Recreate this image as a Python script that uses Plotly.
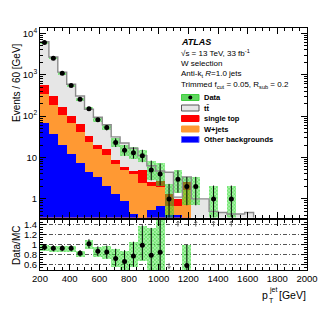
import plotly.graph_objects as go

# ---------------- data ----------------
bin_lo = list(range(200, 2000, 60))          # 30 bins of 60 GeV
bin_width = 60

other_bkg = [70, 36, 20.5, 12.4, 7.5, 4.4, 3.4, 2.1, 1.32, 0.91, 0.43, 0.3, 0.55, 0.69, 0.4,
             0.4, 0.2, 0.05, 0.05, 0.02, 0.02, 0.02, 0.02, 0.02, 0.01, 0.01, 0.01, 0.01, 0.01, 0.01]
wjets = [275, 154, 88.5, 54.6, 33.1, 19.4, 12.8, 9.6, 5.78, 4.15, 3.61, 2.1, 1.55, 1.21, 0.29,
         0.29, 1.4, 0.1, 0.1, 0.05, 0.05, 0.03, 0.03, 0.05, 0.02, 0.02, 0.02, 0.02, 0.02, 0.02]
single_top = [210, 120, 53, 31, 22.4, 9.2, 4.2, 4.4, 1.75, 0.84, 0.66, 2.66, 0.5, 0.8, 0.63,
              0.31, 1.0, 0.05, 0.05, 0.03, 0, 0, 0, 0, 0, 0, 0, 0, 0, 0]
ttbar = [5745, 2380, 998, 492, 244, 114, 73.6, 45.9, 22.65, 16.5, 12.0, 6.04, 3.7, 2.0, 3.08,
         0.1, 0.8, 0.8, 0.8, 0.4, 0.4, 0.38, 0.38, 0.4, 0.1, 0.1, 0.1, 0.1, 0.1, 0.1]

data = [6000, 2500, 1080, 550, 255, 150, 82, 53, 23, 15, 13, 11, 5, 4, 1, 3, 2, 2, 0, 1, 0, 1,
        0, 0, 0, 0, 0, 0, 0, 0]
data_err_lo = [380, 160, 70, 36, 20, 13, 9, 8, 5, 4, 3.6, 3.3, 2.2, 1.9, 0.83, 1.6, 1.3, 1.3, 0,
               0.83, 0, 0.83, 0, 0, 0, 0, 0, 0, 0, 0]
data_err_hi = [380, 160, 70, 36, 20, 13, 9, 8, 6, 5, 4.7, 4.4, 3.4, 3.2, 1.3, 1.9, 1.4, 1.4, 0,
               1.1, 0, 1.1, 0, 0, 0, 0, 0, 0, 0, 0]

x_ticks = [200, 400, 600, 800, 1000, 1200, 1400, 1600, 1800, 2000]
y_ticks = [1, 10, 100, 1000, 10000]
y_ticktext = ["1", "10", "10<sup>2</sup>", "10<sup>3</sup>", "10<sup>4</sup>"]
r_ticks = [0.6, 0.8, 1.0, 1.2, 1.4]
r_ticktext = ["0.6", "0.8", "1", "1.2", "1.4"]

# ---------------- derived ----------------
n = len(bin_lo)
centers = [b + bin_width / 2 for b in bin_lo]
lvl_blue = [other_bkg[i] for i in range(n)]
lvl_orange = [lvl_blue[i] + wjets[i] for i in range(n)]
lvl_red = [lvl_orange[i] + single_top[i] for i in range(n)]
mc_total = [lvl_red[i] + ttbar[i] for i in range(n)]

FLOOR = 0.01
FONT = "Liberation Sans, Arial, Helvetica, sans-serif"
GREEN_PAT = dict(shape="x", fgcolor="#14d414", bgcolor="rgba(80,230,80,0.35)", size=2.5,
                 solidity=0.6, fillmode="overlay")

fig = go.Figure()

# stacked MC (overlayed cumulative levels)
for lvl, col in [(mc_total, "#e6e6e6"), (lvl_red, "#ff0000"),
                 (lvl_orange, "#ff9933"), (lvl_blue, "#0000ff")]:
    fig.add_trace(go.Bar(x=centers, y=[v - FLOOR for v in lvl], base=[FLOOR] * n,
                         width=bin_width, marker=dict(color=col, line=dict(width=0)),
                         xaxis="x", yaxis="y", showlegend=False, hoverinfo="skip"))

# outline of total
fig.add_trace(go.Scatter(x=bin_lo + [2000], y=mc_total + [mc_total[-1]], mode="lines",
                         line=dict(shape="hv", color="#8c8c8c", width=1.4),
                         xaxis="x", yaxis="y", showlegend=False, hoverinfo="skip"))

# data band (main)
idx = [i for i in range(n) if data[i] > 0]
fig.add_trace(go.Bar(x=[centers[i] for i in idx],
                     y=[data_err_lo[i] + data_err_hi[i] for i in idx],
                     base=[max(data[i] - data_err_lo[i], FLOOR) for i in idx],
                     width=bin_width,
                     marker=dict(color="rgba(0,0,0,0)", pattern=GREEN_PAT, line=dict(width=0)),
                     xaxis="x", yaxis="y", showlegend=False, hoverinfo="skip"))
# data points (main)
fig.add_trace(go.Scatter(x=[centers[i] for i in idx], y=[data[i] for i in idx], mode="markers",
                         marker=dict(color="black", size=5),
                         error_y=dict(type="data", symmetric=False,
                                      array=[data_err_hi[i] for i in idx],
                                      arrayminus=[data_err_lo[i] for i in idx],
                                      color="black", thickness=1, width=0),
                         xaxis="x", yaxis="y", showlegend=False))

# ratio
ratio = [data[i] / mc_total[i] for i in range(n)]
r_lo = [data_err_lo[i] / mc_total[i] for i in range(n)]
r_hi = [data_err_hi[i] / mc_total[i] for i in range(n)]
ridx = [i for i in idx if 0.5 <= ratio[i] <= 1.5]
fig.add_trace(go.Bar(x=[centers[i] for i in ridx], y=[r_lo[i] + r_hi[i] for i in ridx],
                     base=[ratio[i] - r_lo[i] for i in ridx], width=bin_width,
                     marker=dict(color="rgba(0,0,0,0)", pattern=GREEN_PAT, line=dict(width=0)),
                     xaxis="x2", yaxis="y2", showlegend=False, hoverinfo="skip"))
fig.add_trace(go.Scatter(x=[centers[i] for i in ridx], y=[ratio[i] for i in ridx], mode="markers",
                         marker=dict(color="black", size=5),
                         error_y=dict(type="data", symmetric=False,
                                      array=[r_hi[i] for i in ridx],
                                      arrayminus=[r_lo[i] for i in ridx],
                                      color="black", thickness=1, width=0),
                         xaxis="x2", yaxis="y2", showlegend=False))

# out-of-range arrows in the ratio panel (thin lines with small heads)
shapes = []
ARW = dict(color="#555555", width=0.8)
for i in idx:
    c = centers[i]
    if ratio[i] > 1.5:
        shapes.append(dict(type="line", xref="x2", yref="y2", x0=c, x1=c, y0=1.36, y1=1.47,
                           line=ARW))
        shapes.append(dict(type="path", xref="x2", yref="y2",
                           path=f"M {c-10},1.43 L {c},1.47 L {c+10},1.43", line=ARW))
    elif ratio[i] < 0.5:
        shapes.append(dict(type="line", xref="x2", yref="y2", x0=c, x1=c, y0=0.64, y1=0.53,
                           line=ARW))
        shapes.append(dict(type="path", xref="x2", yref="y2",
                           path=f"M {c-10},0.57 L {c},0.53 L {c+10},0.57", line=ARW))

# ---------------- layout helpers ----------------
W, H = 332, 322
ML, MR, MT, MB = 32, 33, 20, 60
PW, PH = W - ML - MR, H - MT - MB

annotations = []


def px(xp):
    return (xp - ML) / PW


def py(yp):
    return (H - MB - yp) / PH


def txt(x, y, s, size=8, anchor="left", **kw):
    d = dict(x=px(x), y=py(y), xref="paper", yref="paper", text=s, showarrow=False,
             xanchor=anchor, yanchor="middle", borderpad=0, borderwidth=0,
             font=dict(family=FONT, size=size, color="black"))
    d.update(kw)
    annotations.append(d)


# header texts
txt(173, 34.5, "<b><i>ATLAS</i></b>", size=9)
txt(173, 45, "√s = 13 TeV, 33 fb<sup>-1</sup>", size=8)
txt(173, 55.5, "W selection", size=8)
txt(173, 66, "Anti-k<sub>t</sub> <i>R</i>=1.0 jets", size=8)
txt(173, 76.5, "Trimmed f<sub>cut</sub> = 0.05, R<sub>sub</sub> = 0.2", size=8)

# legend
leg_rows = [89.5, 100, 110.5, 121, 131.5]
leg_labels = ["Data", "tt\u0304", "single top", "W+jets", "Other backgrounds"]
leg_fill = ["#5fd85f", "#e6e6e6", "#ff0000", "#ff9933", "#0000ff"]
leg_line = ["#3fcf3f", "#555555", "#ff0000", "#ff9933", "#6666ff"]
for yrow, lab, fc, lc in zip(leg_rows, leg_labels, leg_fill, leg_line):
    shapes.append(dict(type="rect", xref="paper", yref="paper", x0=px(173.5), x1=px(191),
                       y0=py(yrow + 3), y1=py(yrow - 3), fillcolor=fc,
                       line=dict(color=lc, width=1)))
    txt(195.5, yrow, "<b>" + lab + "</b>", size=7.5)
shapes.append(dict(type="circle", xref="paper", yref="paper", x0=px(180.3), x1=px(184.3),
                   y0=py(leg_rows[0] + 2), y1=py(leg_rows[0] - 2), fillcolor="black",
                   line=dict(width=0)))

# axis titles
txt(8, 75, "Events / 60 [GeV]", size=10, anchor="center", textangle=-90)
txt(8, 238, "Data/MC", size=10, anchor="center", textangle=-90)
txt(260, 287, "p", size=10.5, anchor="right")
txt(260.5, 282, "jet", size=7)
txt(260.5, 292, "T", size=7)
txt(298, 287, "[GeV]", size=10.5, anchor="right")

axis_common = dict(showline=True, linecolor="black", linewidth=1, mirror="allticks",
                   ticks="inside", tickcolor="black", ticklen=6, tickwidth=0.8,
                   tickfont=dict(family=FONT, size=9.5, color="black"), zeroline=False)

main_bottom = py(209.5)
ratio_top = py(211.5)

minor_log = [m * 10 ** e for e in range(-1, 5) for m in range(2, 10)]

fig.update_layout(
    width=W, height=H, margin=dict(l=ML, r=MR, t=MT, b=MB),
    paper_bgcolor="white", plot_bgcolor="white",
    barmode="overlay", bargap=0, showlegend=False,
    font=dict(family=FONT, color="black"),
    xaxis=dict(domain=[0, 1], range=[200, 2000], anchor="y", showticklabels=False,
               tickvals=x_ticks, minor=dict(dtick=50, tick0=200, ticklen=3, ticks="inside",
                                             tickcolor="black", tickwidth=0.8),
               showgrid=False, **axis_common),
    yaxis=dict(domain=[main_bottom, 1], type="log", range=[-0.45, 4.13], anchor="x",
               tickvals=y_ticks, ticktext=y_ticktext, showgrid=False,
               minor=dict(tickvals=minor_log, ticklen=3, ticks="inside", tickcolor="black",
                          tickwidth=0.8),
               **axis_common),
    xaxis2=dict(domain=[0, 1], range=[200, 2000], anchor="y2", matches="x",
                tickvals=x_ticks, showgrid=False,
                minor=dict(dtick=50, tick0=200, ticklen=3, ticks="inside", tickcolor="black",
                           tickwidth=0.8),
                **axis_common),
    yaxis2=dict(domain=[0, ratio_top], range=[0.5, 1.5], anchor="x2",
                tickvals=r_ticks, ticktext=r_ticktext, showgrid=True, gridcolor="#555555",
                gridwidth=0.5, griddash="4px,2px,1px,2px",
                minor=dict(dtick=0.05, tick0=0.5, ticklen=3, ticks="inside", tickcolor="black",
                           tickwidth=0.8),
                **axis_common),
    annotations=annotations, shapes=shapes,
)

fig.write_html("out.html")
